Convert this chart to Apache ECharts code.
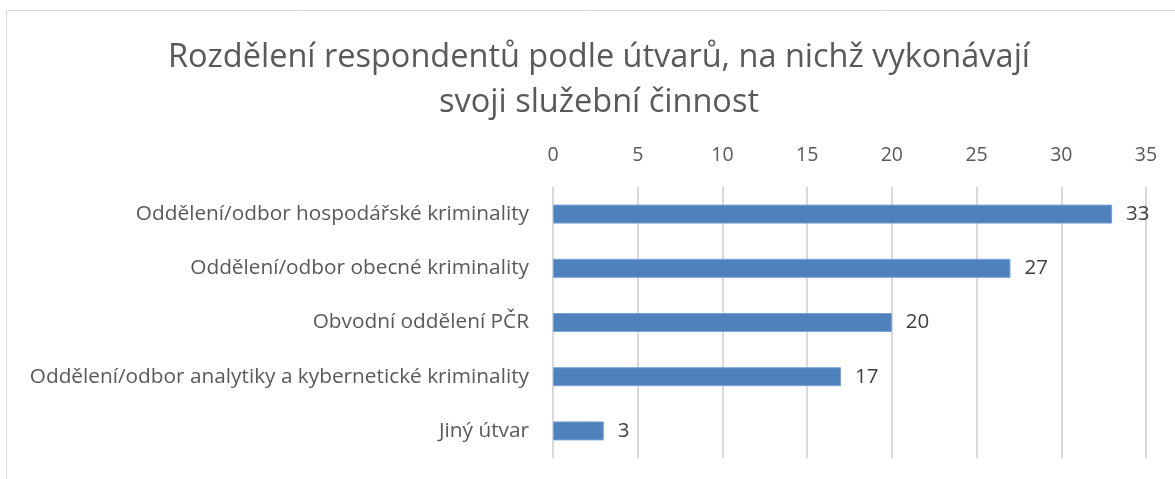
<!DOCTYPE html>
<html><head><meta charset="utf-8">
<script src="https://cdn.jsdelivr.net/npm/echarts@6/dist/echarts.min.js"></script>
<style>html,body{margin:0;padding:0;background:#fff}#c{width:1175px;height:479px}</style>
</head><body><div id="c"></div>
<script>
const categories = [
  "Oddělení/odbor hospodářské kriminality",
  "Oddělení/odbor obecné kriminality",
  "Obvodní oddělení PČR",
  "Oddělení/odbor analytiky a kybernetické kriminality",
  "Jiný útvar"
];
const values = [33, 27, 20, 17, 3];
const titleLines = ["Rozdělení respondentů podle útvarů, na nichž vykonávají", "svoji služební činnost"];

const chart = echarts.init(document.getElementById('c'), null, {renderer: 'canvas'});
chart.setOption({
  animation: false,
  backgroundColor: '#fff',
  graphic: [{
    type: 'rect', shape: {x: 6.5, y: 10.5, width: 1200, height: 500},
    style: {fill: 'none', stroke: '#d9d9d9', lineWidth: 1}, silent: true
  }],
  title: {
    text: titleLines.join('\n'),
    left: 594, top: 30, textAlign: 'center',
    textStyle: {fontFamily: 'Open Sans', fontSize: 32.5, fontWeight: 'normal', color: '#595959', lineHeight: 45}
  },
  grid: {left: 553, right: 29, top: 187, bottom: 21, containLabel: false},
  xAxis: {
    type: 'value', position: 'top', min: 0, max: 35, interval: 5,
    axisLine: {show: false}, axisTick: {show: false},
    splitLine: {lineStyle: {color: '#d9d9d9', width: 2}},
    axisLabel: {fontFamily: 'Open Sans', fontSize: 19.5, color: '#595959', margin: 22}
  },
  yAxis: {
    type: 'category', data: categories, inverse: true,
    axisLine: {show: false}, axisTick: {show: false},
    axisLabel: {fontFamily: 'Open Sans', fontSize: 20.8, color: '#595959', margin: 24}
  },
  series: [{
    type: 'bar', data: values, barWidth: 19,
    itemStyle: {color: '#4f81bd', borderColor: '#7aa3d6', borderWidth: 1},
    label: {show: true, position: 'right', distance: 14, fontFamily: 'Open Sans', fontSize: 20.5, color: '#404040'}
  }]
});
</script></body></html>
